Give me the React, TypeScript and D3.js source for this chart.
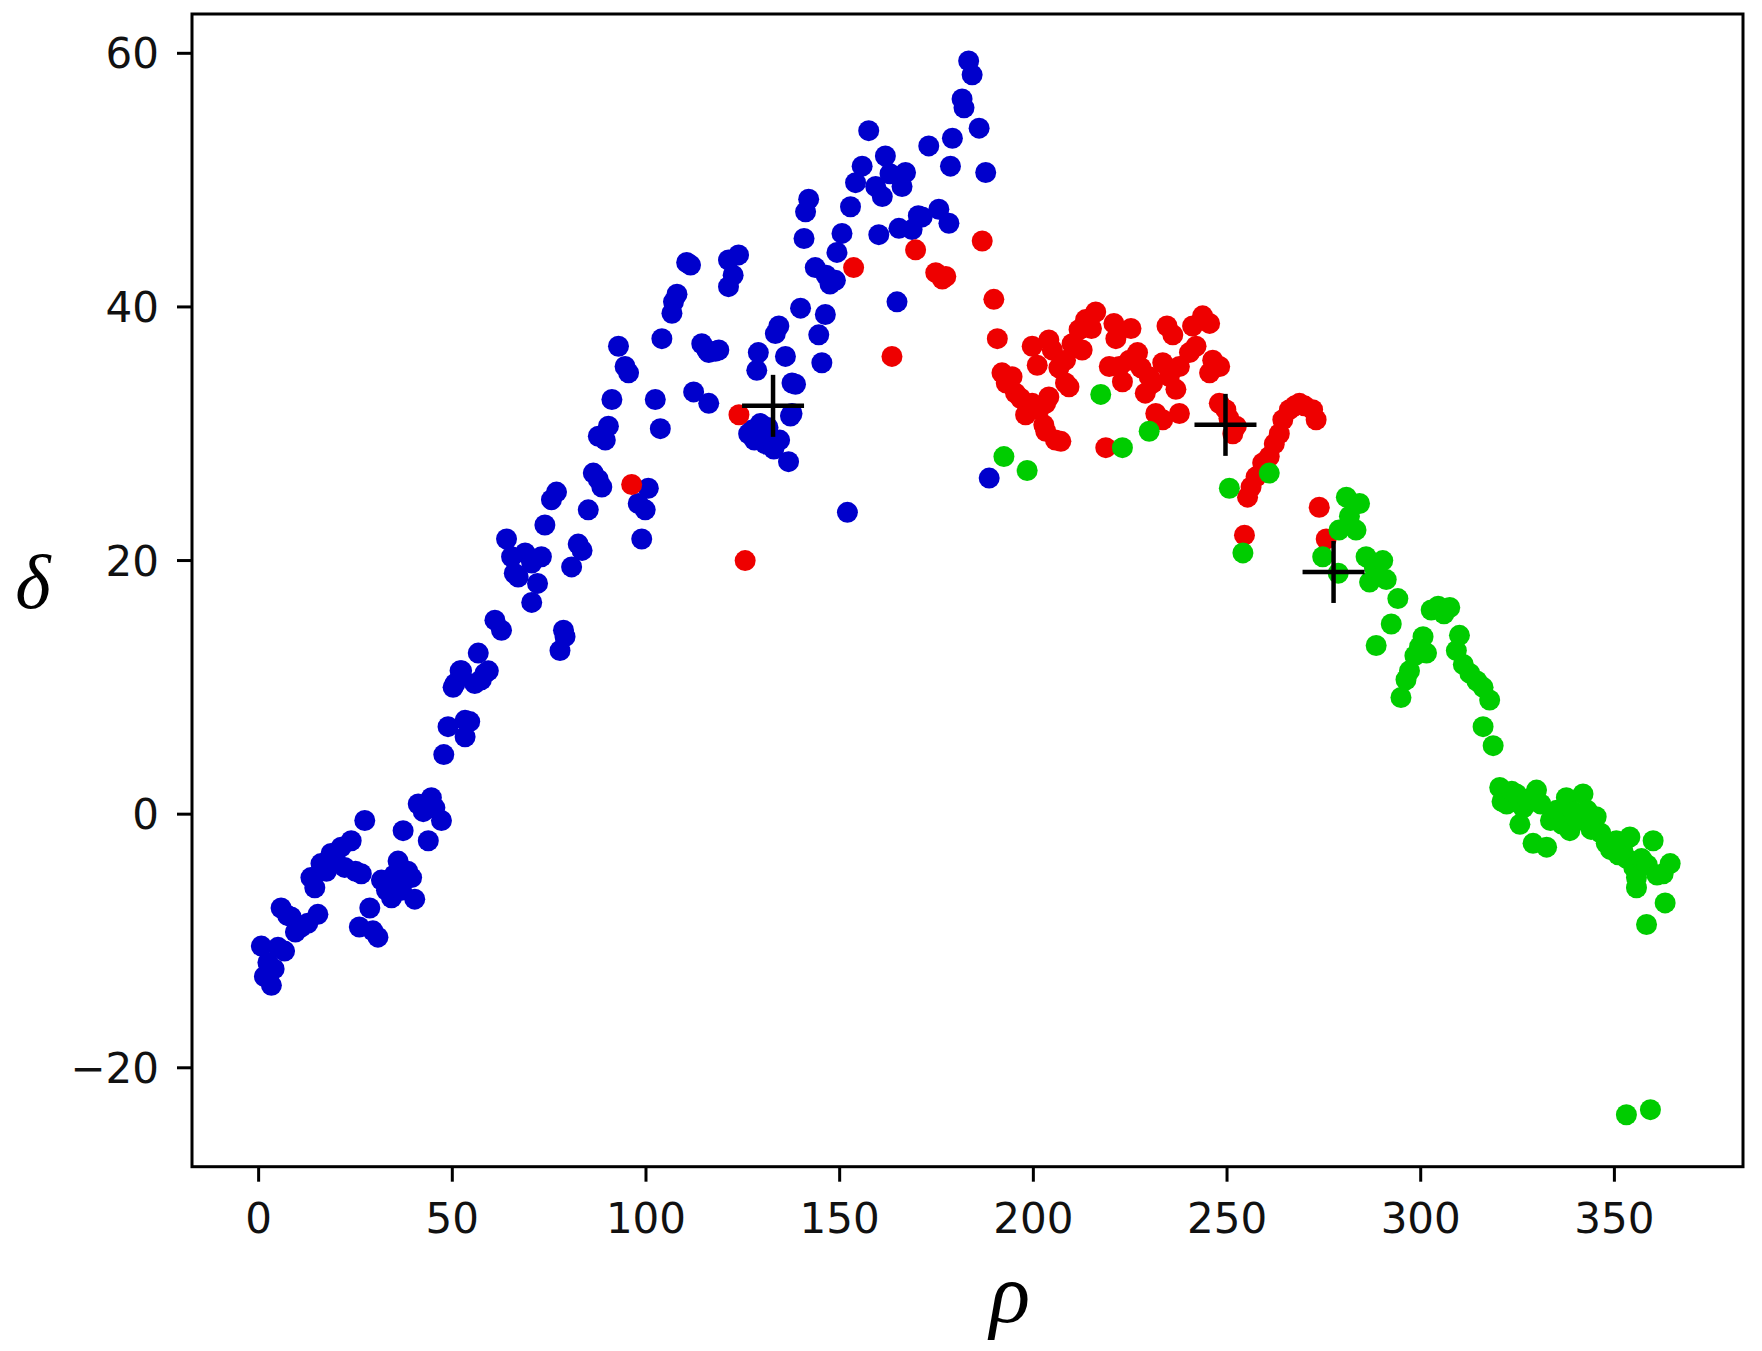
import React from "react";
import * as d3 from "d3";

// Decision-graph data: [rho, delta] per cluster
const bluePoints: [number, number][] = [
  [0.7,-10.4],[1.5,-12.8],[2.4,-11.7],[3.3,-13.5],[4,-12.2],[5,-10.5],[5.8,-7.4],[6.7,-10.8],[7.5,-8],[8.4,-8.1],
  [9.5,-9.3],[11,-8.9],[12.7,-8.6],[13.5,-5],[14.5,-5.8],[15.3,-7.9],[16.1,-3.9],[17.5,-4.5],[18.7,-3.1],[20,-3.8],
  [21.3,-2.6],[22.2,-4.2],[23.9,-2.1],[25,-4.5],[26,-8.9],[26.5,-4.7],[27.4,-0.5],[28.7,-7.4],[29.5,-9.2],[30.8,-9.7],
  [31.7,-5.2],[33,-6],[34.3,-6.6],[35,-4.8],[36,-3.7],[36.9,-6],[37.3,-1.3],[38.5,-4.5],[39.5,-5],[40.3,-6.7],
  [41.2,0.8],[42.5,0.2],[43.8,-2.1],[44.6,1.3],[45.5,0.5],[47.2,-0.5],[47.8,4.7],[48.9,6.9],
  [50.2,10],[50.7,10.3],[52,11.3],[52.4,11.3],[53.3,7.4],[53.3,6.1],[54.5,7.3],[55.8,10.3],[56.7,12.7],[57.5,10.6],
  [58.4,11.1],[59.3,11.3],[61,15.3],[62.7,14.5],[64,21.7],[65.3,20.3],[66,19],[67,18.7],[68.8,20.6],[70.5,19.8],
  [70.5,16.7],[72,18.2],[73,20.3],[73.9,22.8],[75.6,24.8],[76.9,25.4],[77.8,12.9],[78.7,14.5],[79.1,14],[80.8,19.5],
  [82.5,21.3],[83.5,20.8],[85.1,24],[86.4,26.9],[87.7,26.4],[88.6,25.8],[87.7,29.8],[89.5,29.5],[90.3,30.6],[91.2,32.7],
  [92.9,36.9],[94.6,35.3],[95.5,34.8],[98,24.5],[98.9,21.7],[99.8,24],[100.6,25.7],
  [102.4,32.7],[103.7,30.4],[104.1,37.5],[106.7,39.5],[107.1,40.4],[108,41],[110.5,43.5],[111.5,43.3],[112.3,33.3],
  [114.4,37.1],[115.7,36.6],[116.2,36.4],[116.2,32.4],[117.9,36.5],[118.8,36.6],[121.3,43.7],[121.3,41.6],[122.5,42.5],
  [123.9,44.1],[126.5,30],[127.4,30.3],[128,29.5],[128.6,35],[129,36.4],[129.5,30.8],[130.8,29.2],[131,29.6],[131.5,30.5],
  [132.5,29],[133,28.8],[133.4,37.9],[134.3,38.5],[134.5,29.5],[136,36.1],[136.8,27.8],[137.3,31.4],[137.7,34],[137.7,31.6],
  [138.6,33.9],[139.9,39.9],
  [140.8,45.4],[141.2,47.5],[142,48.5],[143.7,43.1],[144.6,37.8],[145.4,35.6],[146.3,39.4],[146.5,42.5],[147.5,41.8],
  [148.9,42.1],[149.3,44.3],[150.6,45.8],[152.8,47.9],[154.1,49.8],[155.8,51.1],[157.5,53.9],[159.3,49.5],[160.1,45.7],
  [161,48.7],[161.8,51.9],[163,50.5],[164.8,40.4],[165.3,46.2],[166.1,49.5],[167,50.6],[168.7,46.1],[170.3,47.2],
  [171.3,47.1],[173,52.7],[175.6,47.7],[178.2,46.6],[178.6,51.1],[179.1,53.3],[181.6,56.4],[182.1,55.7],[183.3,59.4],
  [184.2,58.3],[186,54.1],[187.7,50.6],[188.6,26.5],[152,23.8]
];

const redPoints: [number, number][] = [
  [96.3,26],[124,31.5],[125.6,20],[153.6,43.1],[163.5,36.1],[169.6,44.5],[174.8,42.7],[176.5,42.2],[177.4,42.4],
  [186.8,45.2],[189.8,40.6],[190.7,37.5],
  [191.9,34.8],[193,34],[194.5,34.5],[195.4,33.2],[196.7,32.8],[198,31.5],[199.7,32.4],[199.7,36.9],[201,35.4],
  [201.4,31.9],[202.7,30.7],[203.2,30.2],[203.2,32.4],[204,32.9],[204,37.4],[204.9,36.6],[205.7,29.5],[206.6,35.2],
  [207.1,29.4],[208.3,34],[208.3,35.8],[209.2,33.7],[210,37.1],[211.8,38.2],[212.6,36.6],[213.5,39],[215,38.3],
  [216.1,39.6],[218.7,28.9],[219.6,35.3],[220.8,38.7],[221.3,37.5],[222.2,35.3],[223,34.1],[224.8,35.8],[225.2,38.3],
  [226.9,36.4],[227.8,35.2],[228.9,33.2],[229.9,34.5],[230.8,34],[231.6,31.6],[233.4,35.6],[233.4,31.1],[234.5,38.5],
  [235.1,34.5],[236,37.8],[236.8,33.5],[237.7,35.3],[237.7,31.6],[240.3,36.4],[241.1,38.5],[242,36.9],[243.7,39.3],
  [245.5,38.7],[245.5,34.8],[246.3,35.8],[248.1,35.3],[248,32.4],[249.7,31.9],[250.5,31.2],[251.5,30],[252.4,30.6],
  [254.5,22],[255.3,25],[256.2,25.8],[257.5,26.6],[259.2,27.7],[260.9,28.2],[262.2,29.2],[263.5,30],[264.4,31.1],
  [266.1,31.9],[267.5,32.2],[268.7,32.4],[270,32.2],[272.1,31.9],[273,31.1],[273.8,24.2],[275.6,21.7]
];

const greenPoints: [number, number][] = [
  [192.4,28.2],[198.4,27.1],[217.4,33.1],[223,28.9],[229.9,30.2],[250.6,25.7],[254.1,20.6],[260.9,26.9],
  [274.7,20.3],[278.7,19],[278.9,22.4],[280.8,25],[281.6,23.5],[283.3,22.4],[284.2,24.5],[285.9,20.3],[286.8,18.3],
  [288,19.5],[288.5,13.3],[290.2,20],[291.1,18.5],[292.4,15],[294.1,17],[294.9,9.2],[296.2,10.6],[297.1,11.3],
  [298.5,12.5],[299.7,13.2],[300.6,14],[301.5,12.7],[302.7,16.1],[304.5,16.4],[306,15.8],[307.5,16.3],[309.2,12.9],
  [310,14.1],[311,11.8],[312.7,11.1],[314.5,10.5],[316.1,10],[317.8,9],[316.1,6.9],[318.7,5.4],
  [320.4,2.1],[321,1],[322.2,0.8],[323.5,1.8],[324.7,1.6],[325.6,-0.8],[326.5,0.5],[327.5,1.2],[329,-2.3],[329.9,1.9],
  [331,0.8],[332.5,-2.6],[333.5,-0.5],[335.1,0.3],[336.5,-0.8],[337.6,1.3],[338.5,-1.3],[339.5,0.2],[340.5,-0.5],
  [341.9,1.6],[343,0.3],[344,-1.2],[345.3,-0.2],[346.5,-1.5],[347.9,-2.3],[349,-2.8],[350.5,-2.1],[351,-3.2],
  [352.2,-2.9],[353.2,-3.5],[354,-1.8],[355,-4.2],[355.7,-5],[355.7,-5.8],[357,-3.5],[358.3,-8.7],[358.5,-4],
  [360,-2.1],[361,-4.8],[362.6,-4.7],[363.1,-7],[364.4,-3.9],[353.1,-23.7],[359.3,-23.3]
];

const centers: [number, number][] = [[132.8,32.2],[249.6,30.7],[277.5,19.1]];

const xTicks = [0, 50, 100, 150, 200, 250, 300, 350];
const yTicks = [-20, 0, 20, 40, 60];

const W = 1762, H = 1351;
const L = 192, R = 1743, T = 14, B = 1166.7;

export default function App() {
  const x = d3.scaleLinear().domain([-17.2, 383.2]).range([L, R]);
  const y = d3.scaleLinear().domain([-27.8, 63.1]).range([B, T]);
  const fmt = (v: number) => (v < 0 ? "\u2212" + Math.abs(v) : String(v));
  const tickFont = "'DejaVu Sans', sans-serif";
  const r = 10.5;
  const series: [string, [number, number][]][] = [
    ["#0000cc", bluePoints],
    ["#ee0000", redPoints],
    ["#00cc00", greenPoints],
  ];
  return (
    <svg width={W} height={H} style={{ position: "absolute", left: 0, top: 0, background: "#fff" }}>
      <rect x={0} y={0} width={W} height={H} fill="#fff" />
      {series.map(([c, pts], si) => (
        <g key={si} fill={c}>
          {pts.map((p, i) => (
            <circle key={i} cx={x(p[0])} cy={y(p[1])} r={r} />
          ))}
        </g>
      ))}
      <g stroke="#000" strokeWidth={4.5}>
        {centers.map((p, i) => (
          <g key={i}>
            <line x1={x(p[0]) - 31} x2={x(p[0]) + 31} y1={y(p[1])} y2={y(p[1])} />
            <line x1={x(p[0])} x2={x(p[0])} y1={y(p[1]) - 31} y2={y(p[1]) + 31} />
          </g>
        ))}
      </g>
      <rect x={L} y={T} width={R - L} height={B - T} fill="none" stroke="#000" strokeWidth={3} />
      {xTicks.map((t) => (
        <g key={"x" + t}>
          <line x1={x(t)} x2={x(t)} y1={B} y2={B + 15} stroke="#000" strokeWidth={3} />
          <text x={x(t)} y={B + 34} dy="0.76em" textAnchor="middle" fontFamily={tickFont} fontSize={42} fill="#111">
            {fmt(t)}
          </text>
        </g>
      ))}
      {yTicks.map((t) => (
        <g key={"y" + t}>
          <line x1={L - 15} x2={L} y1={y(t)} y2={y(t)} stroke="#000" strokeWidth={3} />
          <text x={L - 33} y={y(t)} dy="0.36em" textAnchor="end" fontFamily={tickFont} fontSize={42} fill="#111">
            {fmt(t)}
          </text>
        </g>
      ))}
      <text x={1010} y={1322} textAnchor="middle" fontFamily="'Liberation Serif', serif" fontStyle="italic" fontSize={84} fill="#000">
        ρ
      </text>
      <text x={33} y={608} textAnchor="middle" fontFamily="'Liberation Serif', serif" fontStyle="italic" fontSize={76} fill="#000">
        δ
      </text>
    </svg>
  );
}
